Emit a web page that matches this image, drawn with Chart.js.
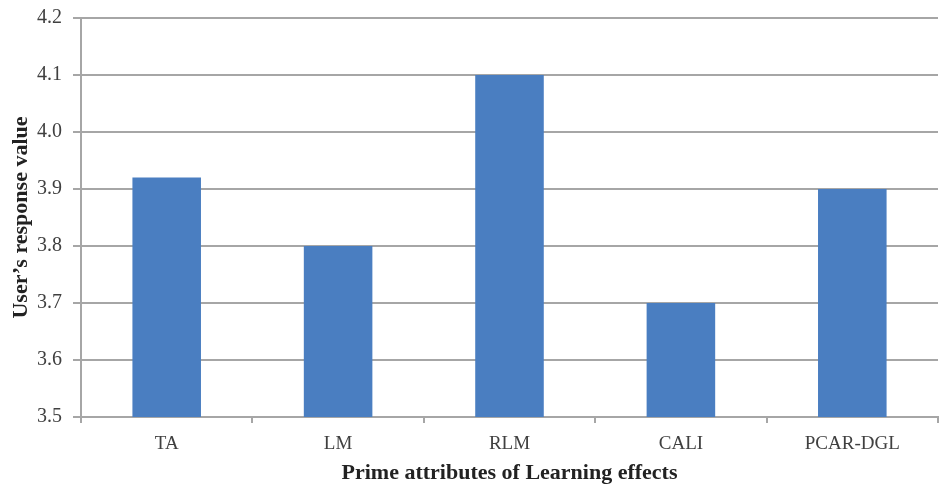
<!DOCTYPE html>
<html>
<head>
<meta charset="utf-8">
<script src="https://cdn.jsdelivr.net/npm/chart.js@4/dist/chart.umd.min.js"></script>
<style>
  html, body { margin: 0; padding: 0; background: #ffffff; }
  #wrap { width: 939px; height: 487px; }
</style>
</head>
<body>
<div id="wrap"><canvas id="c" width="939" height="487"></canvas></div>
<script>
// Mean user response per learning-effect attribute
const categories = ['TA', 'LM', 'RLM', 'CALI', 'PCAR-DGL'];
const responseValues = [3.92, 3.8, 4.1, 3.7, 3.9];
const yMin = 3.5;
const yMax = 4.2;
const yStep = 0.1;

const gridGray = '#a6a6a6';
const serif = "'Liberation Serif', 'DejaVu Serif', serif";

new Chart(document.getElementById('c'), {
  type: 'bar',
  data: {
    labels: categories,
    datasets: [{
      data: responseValues,
      backgroundColor: '#4a7ec1',
      borderWidth: 0,
      categoryPercentage: 0.4,
      barPercentage: 1.0
    }]
  },
  options: {
    responsive: false,
    animation: false,
    layout: { padding: { top: 18, right: 1, bottom: 0, left: 0 } },
    plugins: {
      legend: { display: false },
      tooltip: { enabled: false }
    },
    scales: {
      x: {
        offset: true,
        afterFit: (s) => { s.height = 70; },
        grid: {
          offset: true,
          drawOnChartArea: false,
          drawTicks: true,
          tickLength: 6,
          color: gridGray,
          lineWidth: 2
        },
        border: { color: gridGray, width: 2 },
        ticks: {
          color: '#404040',
          font: { family: serif, size: 19 },
          padding: 10
        },
        title: {
          display: true,
          text: 'Prime attributes of Learning effects',
          color: '#222222',
          font: { family: serif, size: 22, weight: 'bold' },
          padding: { top: 0, bottom: 0 }
        }
      },
      y: {
        min: yMin,
        max: yMax,
        afterFit: (s) => { s.width = 81; s.paddingTop = 0; s.paddingBottom = 0; },
        grid: {
          color: gridGray,
          lineWidth: 2,
          drawTicks: true,
          tickLength: 8
        },
        border: { color: gridGray, width: 2 },
        ticks: {
          stepSize: yStep,
          color: '#404040',
          font: { family: serif, size: 20 },
          padding: 11,
          callback: (v) => Number(v).toFixed(1)
        },
        title: {
          display: true,
          text: 'User\u2019s response value',
          color: '#222222',
          font: { family: serif, size: 22, weight: 'bold' },
          padding: { top: 8, bottom: 0 }
        }
      }
    }
  }
});
</script>
</body>
</html>
